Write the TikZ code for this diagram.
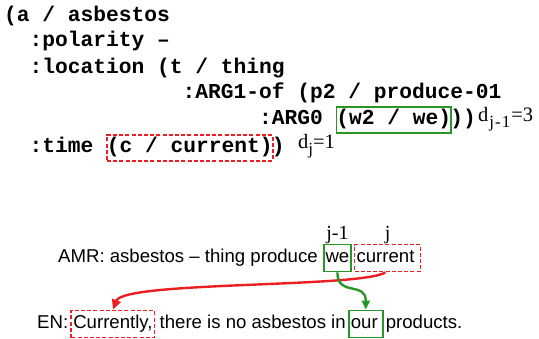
\documentclass[tikz,border=0pt]{standalone}
\usepackage{fontspec}
\setmainfont{Liberation Sans}
\newfontfamily\amrmono{Liberation Mono}
\newfontfamily\amrserif{Liberation Serif}
\usetikzlibrary{arrows.meta,calc}
\definecolor{boxred}{RGB}{235,30,35}
\definecolor{boxgreen}{RGB}{40,150,40}
\newcommand{\subsz}{\fontsize{17}{20}\selectfont}
\begin{document}
\begin{tikzpicture}[x=1pt,y=-1pt,
  mono/.style={anchor=base west, inner sep=0pt, font=\amrmono\bfseries\fontsize{21.25}{25}\selectfont},
  monobox/.style={text height=17.3pt, text depth=8.5pt},
  dlab/.style={anchor=base west, inner sep=0pt, font=\amrserif\fontsize{20.5}{24}\selectfont},
  sans/.style={anchor=base west, inner sep=0pt, font=\fontsize{18.6}{22}\selectfont},
  sansbox/.style={inner ysep=2pt, text height=16pt, text depth=7pt},
  jlab/.style={anchor=base, inner sep=0pt, font=\amrserif\fontsize{20}{23}\selectfont},
  gbox/.style={draw=boxgreen, line width=1.8pt},
  rbox/.style={draw=boxred, line width=1.8pt, dash pattern=on 4pt off 2.2pt},
  rarrow/.style={draw=boxred, line width=2.4pt, -{Triangle[length=10pt,width=9pt]}},
  garrow/.style={draw=boxgreen, line width=2.4pt, -{Triangle[length=9pt,width=8pt]}}]
\useasboundingbox (0,0) rectangle (539,338);
% AMR graph
\node[mono] (l1) at ({4+0*12.75},21.4) {(a / asbestos};
\node[mono] (l2) at ({4+2*12.75},46.4) {:polarity –};
\node[mono] (l3) at ({4+2*12.75},73) {:location (t / thing};
\node[mono] (l4) at ({4+14*12.75},98.8) {:ARG1-of (p2 / produce-01};
\node[mono] (l5) at ({4+20*12.75},124.6) {:ARG0};
\node[mono, monobox, gbox] (w2) at ({4+26*12.75},124.6) {(w2 / we)};
\node[mono] (l5b) at ({4+35*12.75},124.6) {))};
\node[dlab] (d1) at (478,121.5) {d\kern1pt\raisebox{-6pt}{\subsz j\kern1pt-\kern1pt1}\kern1pt=3};
\node[mono] (l6) at ({4+2*12.75},152.4) {:time};
\node[mono, monobox, rbox] (c) at ({4+8*12.75},152.4) {(c / current)};
\node[mono] (l6b) at ({4+21*12.75},152.4) {)};
\node[dlab] (d2) at (298,148.5) {d\raisebox{-6pt}{\subsz j}=1};
% AMR linearised
\node[sans] (amr) at (58,262.5) {AMR: asbestos – thing produce};
\node[sans, sansbox, gbox, inner xsep=1.5pt] (we) at ($(amr.base east)+(5.2,0)$) {we};
\node[sans, sansbox, rbox, inner xsep=2pt] (cur) at ($(we.base east)+(2,0)$) {current\hspace*{4pt}};
\node[jlab] (jm1) at ($(we.north)+(0,-4.5)$) {j-1};
\node[jlab] (j) at ($(cur.north)+(0,-4.5)$) {j};
% English
\node[sans] (en) at (37,328.5) {EN:};
\node[sans, sansbox, rbox, inner xsep=2pt] (currently) at ($(en.base east)+(2,0)$) {Currently,};
\node[sans] (mid) at ($(currently.base east)+(4,0)$) {there is no asbestos in};
\node[sans, sansbox, gbox, inner xsep=2pt] (our) at ($(mid.base east)+(2,0)$) {our\hspace*{3pt}};
\node[sans] (prod) at ($(our.base east)+(2,0)$) {products.};
% arrows
\draw[rarrow] ([xshift=-2pt]cur.south) .. controls (360,288) and (124,281) .. (currently.north);
\draw[garrow] (we.south) .. controls ($(we.south)+(0,25)$) and ($(our.north)+(0,-29)$) .. (our.north);
\end{tikzpicture}
\end{document}
